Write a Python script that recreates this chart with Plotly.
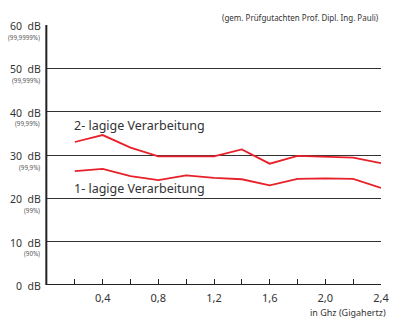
import plotly.graph_objects as go

freq_ghz = [0.2, 0.4, 0.6, 0.8, 1.0, 1.2, 1.4, 1.6, 1.8, 2.0, 2.2, 2.4]
zweilagig_db = [33.0, 34.6, 31.7, 29.7, 29.7, 29.7, 31.3, 28.0, 29.8, 29.6, 29.4, 28.1]
einlagig_db = [26.3, 26.8, 25.1, 24.2, 25.3, 24.7, 24.4, 23.0, 24.5, 24.6, 24.5, 22.4]

y_ticks = [0, 10, 20, 30, 40, 50, 60]
y_tick_labels = ["0  dB", "10  dB", "20  dB", "30  dB", "40  dB", "50  dB", "60  dB"]
y_tick_sub = ["", "(90%)", "(99%)", "(99,9%)", "(99,99%)", "(99,999%)", "(99,9999%)"]
x_ticks = [0.2, 0.4, 0.6, 0.8, 1.0, 1.2, 1.4, 1.6, 1.8, 2.0, 2.2, 2.4]
x_tick_labels = ["", "0,4", "", "0,8", "", "1,2", "", "1,6", "", "2,0", "", "2,4"]

FONT = "Noto Sans"
RED = "#e8202a"
TXT = "#333333"

fig = go.Figure()
for name, vals in [("2-lagig", zweilagig_db), ("1-lagig", einlagig_db)]:
    fig.add_trace(go.Scatter(x=freq_ghz, y=vals, mode="lines", name=name,
                             line=dict(color=RED, width=1.8), showlegend=False))

ann = []
for v, lab, sub in zip(y_ticks, y_tick_labels, y_tick_sub):
    ann.append(dict(x=0, y=v, xref="paper", yref="y", text=lab, showarrow=False,
                    xanchor="right", yanchor="middle", xshift=-4, yshift=-1,
                    font=dict(family=FONT, size=10.5, color=TXT)))
    if sub:
        ann.append(dict(x=0, y=v, xref="paper", yref="y", text=sub, showarrow=False,
                        xanchor="right", yanchor="middle", xshift=-5, yshift=-12,
                        font=dict(family=FONT, size=6.2, color="#555555")))

ann.append(dict(x=0.18, y=36.7, xref="x", yref="y", text="2- lagige Verarbeitung",
                showarrow=False, xanchor="left", yanchor="middle",
                font=dict(family=FONT, size=12.5, color=TXT)))
ann.append(dict(x=0.18, y=22.3, xref="x", yref="y", text="1- lagige Verarbeitung",
                showarrow=False, xanchor="left", yanchor="middle",
                font=dict(family=FONT, size=12.5, color=TXT)))
ann.append(dict(x=1, y=1, xref="paper", yref="paper", text="(gem. Prüfgutachten Prof. Dipl. Ing. Pauli)",
                showarrow=False, xanchor="right", yanchor="bottom", yshift=0,
                font=dict(family=FONT, size=8, color=TXT)))
ann.append(dict(x=1, y=0, xref="paper", yref="paper", text="in Ghz (Gigahertz)",
                showarrow=False, xanchor="right", yanchor="middle", xshift=7, yshift=-27,
                font=dict(family=FONT, size=9, color=TXT)))

fig.update_layout(
    width=398, height=318, autosize=False,
    margin=dict(l=47, r=9, t=25, b=33),
    paper_bgcolor="white", plot_bgcolor="white",
    annotations=ann,
    font=dict(family=FONT, color=TXT),
    xaxis=dict(range=[0, 2.4], tickvals=x_ticks, ticktext=x_tick_labels,
               ticks="inside", ticklen=6, tickwidth=1.3, tickcolor="#222222",
               showgrid=False, zeroline=False, showline=False, ticklabelstandoff=5,
               tickfont=dict(family=FONT, size=11, color=TXT)),
    yaxis=dict(range=[0, 60], tickvals=y_ticks, showticklabels=False,
               showgrid=True, gridcolor="#333333", gridwidth=1.3,
               zeroline=False, showline=False, ticks=""),
    shapes=[
        dict(type="line", xref="paper", yref="paper", x0=-0.002, x1=-0.002, y0=0, y1=1,
             line=dict(color="#222222", width=2)),
        dict(type="line", xref="paper", yref="y", x0=-0.002, x1=1, y0=0, y1=0,
             line=dict(color="#222222", width=2)),
    ],
)

fig.write_html("out.html",
               config={"displayModeBar": False, "responsive": False},
               post_script="document.body.style.margin='0';document.body.style.overflow='hidden';")
